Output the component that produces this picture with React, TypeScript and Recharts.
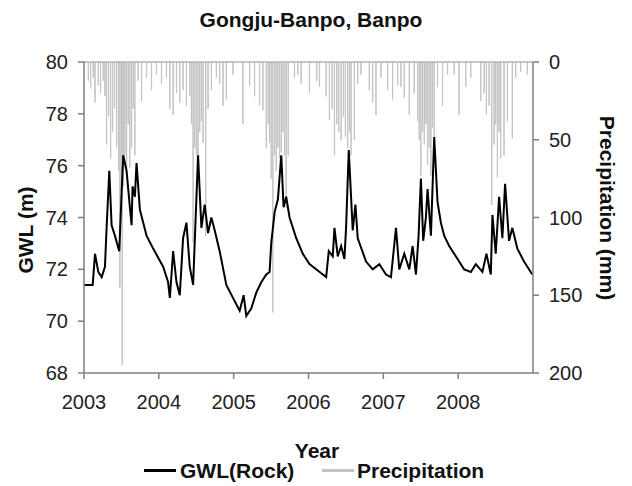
import { Bar, ComposedChart, Line, ReferenceLine, XAxis, YAxis } from 'recharts';
import type { CSSProperties } from 'react';

const FONT = '"Liberation Sans", Arial, sans-serif';
const AXIS_GREY = '#7f7f7f';
const RAIN_GREY = '#c4c4c4';

const YEAR_TICKS = [2003, 2004, 2005, 2006, 2007, 2008];
const GWL_TICKS = [68, 70, 72, 74, 76, 78, 80];
const RAIN_TICKS = [0, 50, 100, 150, 200];

// groundwater level, decimal year -> m
const GWL_T = [
  2003.0, 2003.116, 2003.147, 2003.191, 2003.236, 2003.28, 2003.302, 2003.338, 2003.369, 2003.413,
  2003.471, 2003.502, 2003.524, 2003.569, 2003.613, 2003.636, 2003.649, 2003.68, 2003.702, 2003.747,
  2003.836, 2003.924, 2004.058, 2004.124, 2004.147, 2004.191, 2004.236, 2004.28, 2004.324, 2004.369,
  2004.413, 2004.458, 2004.524, 2004.569, 2004.613, 2004.658, 2004.702, 2004.747, 2004.813, 2004.902,
  2004.991, 2005.08, 2005.133, 2005.169, 2005.236, 2005.302, 2005.369, 2005.436, 2005.48, 2005.502,
  2005.547, 2005.591, 2005.636, 2005.667, 2005.702, 2005.747, 2005.836, 2005.924, 2006.013, 2006.102,
  2006.236, 2006.271, 2006.324, 2006.347, 2006.391, 2006.436, 2006.48, 2006.502, 2006.538, 2006.591,
  2006.627, 2006.658, 2006.769, 2006.858, 2006.947, 2007.036, 2007.102, 2007.169, 2007.213, 2007.28,
  2007.347, 2007.391, 2007.436, 2007.471, 2007.502, 2007.533, 2007.569, 2007.591, 2007.636, 2007.68,
  2007.724, 2007.769, 2007.813, 2007.88, 2007.947, 2008.013, 2008.08, 2008.169, 2008.236, 2008.324,
  2008.378, 2008.436, 2008.458, 2008.502, 2008.547, 2008.591, 2008.627, 2008.68, 2008.724, 2008.791,
  2008.88, 2008.991
];
const GWL_M = [
  71.4, 71.4, 72.6, 71.9, 71.7, 72.1, 73.6, 75.8, 73.7, 73.3,
  72.7, 74.9, 76.4, 75.8, 74.4, 73.7, 75.2, 74.8, 76.1, 74.3,
  73.3, 72.8, 72.1, 71.5, 70.9, 72.7, 71.5, 71.0, 73.2, 73.8,
  72.1, 71.4, 76.4, 73.6, 74.5, 73.4, 74.0, 73.5, 72.7, 71.4,
  70.9, 70.4, 71.0, 70.2, 70.5, 71.1, 71.5, 71.8, 71.9, 73.0,
  74.2, 74.7, 76.4, 74.4, 74.8, 74.0, 73.2, 72.6, 72.2, 72.0,
  71.7, 72.7, 72.5, 73.6, 72.5, 72.9, 72.4, 73.6, 76.6, 73.5,
  74.5, 73.2, 72.3, 72.0, 72.2, 71.8, 71.7, 73.6, 72.0, 72.6,
  72.0, 72.9, 71.8, 73.3, 75.5, 73.1, 74.0, 75.1, 73.3, 77.1,
  74.6, 73.8, 73.3, 72.9, 72.6, 72.3, 72.0, 71.9, 72.2, 71.9,
  72.6, 71.8, 74.1, 72.6, 74.8, 73.2, 75.3, 73.1, 73.6, 72.8,
  72.3, 71.8
];

// daily precipitation, decimal year -> mm
const RAIN_T = [
  2003.058, 2003.089, 2003.124, 2003.147, 2003.191, 2003.222, 2003.258, 2003.28, 2003.302, 2003.329,
  2003.356, 2003.382, 2003.409, 2003.436, 2003.462, 2003.48, 2003.498, 2003.511, 2003.529, 2003.547,
  2003.569, 2003.591, 2003.613, 2003.636, 2003.658, 2003.68, 2003.724, 2003.769, 2003.836, 2003.902,
  2003.969, 2004.036, 2004.102, 2004.147, 2004.191, 2004.236, 2004.28, 2004.324, 2004.369, 2004.413,
  2004.436, 2004.458, 2004.48, 2004.502, 2004.524, 2004.547, 2004.569, 2004.591, 2004.627, 2004.658,
  2004.702, 2004.769, 2004.813, 2004.858, 2004.902, 2004.991, 2005.124, 2005.213, 2005.28, 2005.347,
  2005.391, 2005.436, 2005.462, 2005.48, 2005.502, 2005.524, 2005.547, 2005.569, 2005.591, 2005.613,
  2005.636, 2005.658, 2005.68, 2005.702, 2005.729, 2005.813, 2005.858, 2005.902, 2006.013, 2006.111,
  2006.147, 2006.236, 2006.28, 2006.316, 2006.347, 2006.378, 2006.404, 2006.436, 2006.467, 2006.493,
  2006.524, 2006.547, 2006.569, 2006.613, 2006.658, 2006.702, 2006.813, 2006.858, 2006.902, 2006.969,
  2007.058, 2007.124, 2007.191, 2007.236, 2007.28, 2007.347, 2007.413, 2007.458, 2007.48, 2007.502,
  2007.524, 2007.547, 2007.569, 2007.591, 2007.613, 2007.636, 2007.658, 2007.68, 2007.724, 2007.791,
  2007.858, 2007.947, 2008.013, 2008.102, 2008.169, 2008.302, 2008.347, 2008.378, 2008.413, 2008.449,
  2008.48, 2008.502, 2008.524, 2008.547, 2008.569, 2008.613, 2008.658, 2008.724, 2008.769, 2008.836,
  2008.924
];
const RAIN_MM = [
  12, 17, 10, 26, 15, 20, 12, 22, 53, 35,
  62, 45, 30, 55, 70, 145, 96, 195, 80, 60,
  70, 40, 68, 55, 30, 60, 12, 25, 10, 18,
  8, 14, 10, 30, 34, 20, 26, 18, 28, 22,
  40, 116, 55, 60, 70, 45, 38, 52, 112, 30,
  18, 10, 14, 28, 24, 8, 40, 15, 22, 28,
  31, 55, 40, 52, 75, 161, 60, 70, 55, 62,
  58, 45, 60, 94, 60, 10, 8, 14, 20, 12,
  16, 22, 37, 30, 60, 40, 45, 50, 35, 48,
  55, 45, 60, 50, 14, 8, 18, 26, 34, 10,
  18, 24, 15, 16, 23, 34, 20, 38, 50, 73,
  45, 53, 40, 66, 55, 73, 42, 48, 16, 28,
  8, 8, 34, 16, 10, 25, 20, 34, 28, 92,
  53, 40, 74, 45, 62, 60, 38, 49, 10, 6,
  8
];

const gwlRows = GWL_T.map((t, i) => ({ t, gwl: GWL_M[i] }));
const rainRows = RAIN_T.map((t, i) => ({ t, rain: RAIN_MM[i] }));

const tickStyle = { fill: '#222', fontSize: 20, fontFamily: FONT };
const boldText: CSSProperties = {
  position: 'absolute',
  fontFamily: FONT,
  fontWeight: 'bold',
  fontSize: 21,
  color: '#111',
  whiteSpace: 'nowrap',
  lineHeight: 1
};

export default function App() {
  return (
    <div style={{ position: 'absolute', left: 0, top: 0, width: 632, height: 486, background: '#fff' }}>
      <ComposedChart
        width={632}
        height={486}
        data={rainRows}
        margin={{ top: 62, right: 39, bottom: 83, left: 24 }}
      >
        <XAxis
          dataKey="t"
          type="number"
          domain={[2003, 2009]}
          ticks={YEAR_TICKS}
          allowDataOverflow
          stroke={AXIS_GREY}
          strokeWidth={1.5}
          tick={tickStyle}
          tickSize={6}
          tickMargin={16}
          height={30}
        />
        <YAxis
          yAxisId="gwl"
          domain={[68, 80]}
          ticks={GWL_TICKS}
          allowDataOverflow
          stroke={AXIS_GREY}
          strokeWidth={1.5}
          tick={tickStyle}
          tickSize={6}
          tickMargin={10}
          width={60}
        />
        <YAxis
          yAxisId="rain"
          orientation="right"
          reversed
          domain={[0, 200]}
          ticks={RAIN_TICKS}
          allowDataOverflow
          stroke={AXIS_GREY}
          strokeWidth={1.5}
          tick={tickStyle}
          tickSize={6}
          tickMargin={10}
          width={60}
        />
        <ReferenceLine yAxisId="gwl" y={80} stroke="#b5b5b5" strokeWidth={1.5} />
        <Bar
          yAxisId="rain"
          dataKey="rain"
          fill={RAIN_GREY}
          stroke={RAIN_GREY}
          strokeWidth={1}
          barSize={2}
          isAnimationActive={false}
        />
        <Line
          yAxisId="gwl"
          data={gwlRows}
          dataKey="gwl"
          type="linear"
          stroke="#000"
          strokeWidth={2}
          dot={false}
          isAnimationActive={false}
        />
      </ComposedChart>

      <div style={{ ...boldText, left: 311, top: 19, transform: 'translate(-50%, -50%)' }}>
        Gongju-Banpo, Banpo
      </div>
      <div style={{ ...boldText, left: 25, top: 230, transform: 'translate(-50%, -50%) rotate(-90deg)' }}>
        GWL (m)
      </div>
      <div style={{ ...boldText, left: 607, top: 208, transform: 'translate(-50%, -50%) rotate(90deg)' }}>
        Precipitation (mm)
      </div>
      <div style={{ ...boldText, left: 317, top: 450, transform: 'translate(-50%, -50%)' }}>Year</div>

      <div style={{ position: 'absolute', left: 144, top: 469, width: 32, height: 2.5, background: '#000' }} />
      <div style={{ ...boldText, left: 180, top: 470, transform: 'translateY(-50%)' }}>GWL(Rock)</div>
      <div style={{ position: 'absolute', left: 322, top: 469, width: 32, height: 2.5, background: RAIN_GREY }} />
      <div style={{ ...boldText, left: 357, top: 470, transform: 'translateY(-50%)' }}>Precipitation</div>
    </div>
  );
}
